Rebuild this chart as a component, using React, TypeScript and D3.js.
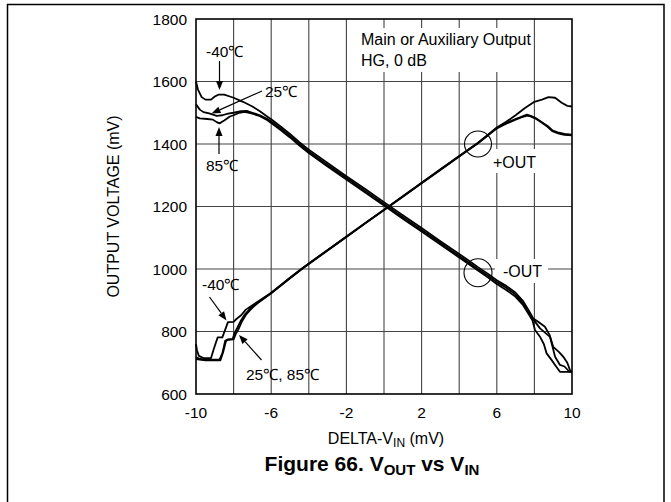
import React from "react";
import * as d3 from "d3";

// ---- data (x: DELTA-VIN mV, y: output mV) ----
const xTicks = [-10, -6, -2, 2, 6, 10];
const yTicks = [600, 800, 1000, 1200, 1400, 1600, 1800];
const xGrid = [-8, -6, -4, -2, 0, 2, 4, 6, 8];
const yGrid = [800, 1000, 1200, 1400, 1600];

const plusOutM40: [number, number][] = [
  [-10, 760], [-9.95, 740], [-9.85, 722], [-9.6, 715], [-9.2, 715], [-9.05, 745], [-8.85, 781], [-8.6, 781],
  [-8.45, 805], [-8.3, 830], [-8.0, 831], [-7.85, 840], [-7.6, 852], [-7.35, 870], [-7.1, 880], [-6.8, 892],
  [-6.5, 904], [-6.0, 924], [-5.5, 948], [-5.0, 972], [-4.4, 1000], [-4.0, 1018], [-3.0, 1061], [-2.0, 1104],
  [-1.0, 1147], [0, 1190], [1, 1233], [2, 1276], [3, 1319], [4, 1362], [5, 1404], [5.5, 1428], [6, 1453],
  [6.5, 1471], [7, 1492], [7.5, 1515], [8, 1535], [8.4, 1542], [8.75, 1550], [9.1, 1548], [9.45, 1532],
  [9.75, 1522], [10, 1520],
];
const plusOut25: [number, number][] = [
  [-10, 718], [-9.8, 712], [-9.5, 710], [-8.75, 710], [-8.6, 730], [-8.45, 770], [-8.3, 775], [-8.05, 776],
  [-7.95, 795], [-7.8, 812], [-7.6, 836], [-7.4, 855], [-7.2, 868], [-7.0, 880], [-6.7, 893], [-6.4, 906],
  [-6.0, 923], [-5.5, 947], [-5.0, 971], [-4.4, 999], [-4.0, 1017], [-3.0, 1060], [-2.0, 1103], [-1.0, 1146],
  [0, 1189], [1, 1232], [2, 1275], [3, 1318], [4, 1361], [5, 1403], [5.5, 1427], [6, 1451], [6.5, 1467],
  [7, 1480], [7.3, 1487], [7.6, 1494], [7.8, 1490], [8.1, 1482], [8.4, 1470], [8.7, 1458], [8.95, 1444],
  [9.3, 1436], [9.6, 1432], [10, 1430],
];
const plusOut85: [number, number][] = [
  [-10, 712], [-9.5, 708], [-8.7, 708], [-8.55, 735], [-8.4, 770], [-8.3, 773], [-8.0, 775], [-7.9, 790],
  [-7.75, 806], [-7.55, 833], [-7.35, 853], [-7.15, 867], [-6.95, 879], [-6.7, 892], [-6.4, 905], [-6.0, 922],
  [-5.5, 946], [-5.0, 970], [-4.4, 998], [-4.0, 1016], [-3.0, 1059], [-2.0, 1102], [-1.0, 1146], [0, 1189],
  [1, 1231], [2, 1274], [3, 1317], [4, 1360], [5, 1402], [5.5, 1426], [6, 1450], [6.5, 1465], [7, 1478],
  [7.3, 1485], [7.6, 1491], [7.8, 1488], [8.1, 1480], [8.4, 1468], [8.7, 1455], [8.95, 1441], [9.3, 1433],
  [9.6, 1429], [10, 1428],
];
const minusOutM40: [number, number][] = [
  [-10, 1600], [-9.9, 1575], [-9.7, 1550], [-9.5, 1542], [-9.2, 1542], [-9.0, 1552], [-8.8, 1558], [-8.5, 1558],
  [-8.2, 1552], [-8.0, 1548], [-7.5, 1535], [-7.0, 1520], [-6.6, 1505], [-6.2, 1487], [-6.0, 1479],
  [-5.5, 1456], [-5.0, 1432], [-4.5, 1406], [-4.0, 1382], [-3.0, 1339], [-2.0, 1297], [-1.0, 1256], [0, 1214],
  [1, 1172], [2, 1131], [3, 1089], [4, 1048], [4.5, 1027], [5, 1006], [5.5, 986], [6, 964], [6.5, 946],
  [7, 924], [7.4, 897], [7.7, 867], [7.94, 842], [8.2, 831], [8.56, 815], [8.8, 790], [9.0, 751], [9.3, 735],
  [9.54, 719], [9.75, 700], [9.9, 675], [10, 671],
];
const minusOut25: [number, number][] = [
  [-10, 1527], [-9.8, 1510], [-9.6, 1502], [-9.3, 1498], [-9.1, 1494], [-8.9, 1490], [-8.6, 1492],
  [-8.3, 1497], [-8.0, 1500], [-7.6, 1505], [-7.3, 1506], [-7.0, 1500], [-6.6, 1492], [-6.2, 1480],
  [-6.0, 1472], [-5.5, 1450], [-5.0, 1426], [-4.5, 1400], [-4.0, 1376], [-3.0, 1333], [-2.0, 1291],
  [-1.0, 1250], [0, 1208], [1, 1166], [2, 1125], [3, 1083], [4, 1042], [4.5, 1021], [5, 1000], [5.5, 980],
  [6, 958], [6.5, 940], [7, 918], [7.4, 890], [7.7, 860], [7.95, 838], [8.3, 810], [8.83, 783], [9.1, 719],
  [9.36, 693], [9.6, 688], [9.85, 672], [10, 671],
];
const minusOut85: [number, number][] = [
  [-10, 1487], [-9.8, 1482], [-9.4, 1480], [-9.1, 1478], [-8.9, 1470], [-8.75, 1466], [-8.5, 1475],
  [-8.2, 1488], [-8.0, 1492], [-7.7, 1500], [-7.4, 1503], [-7.0, 1497], [-6.6, 1489], [-6.2, 1476],
  [-6.0, 1467], [-5.5, 1445], [-5.0, 1421], [-4.5, 1395], [-4.0, 1371], [-3.0, 1328], [-2.0, 1286],
  [-1.0, 1245], [0, 1203], [1, 1161], [2, 1120], [3, 1078], [4, 1037], [4.5, 1016], [5, 995], [5.5, 974],
  [6, 952], [6.5, 933], [7, 911], [7.4, 884], [7.7, 855], [7.9, 835], [8.03, 805], [8.3, 783], [8.5, 760],
  [8.65, 730], [8.9, 710], [9.1, 693], [9.36, 671], [10, 671],
];

const series = [plusOutM40, plusOut25, plusOut85, minusOutM40, minusOut25, minusOut85];

const FONT = "'Liberation Sans', Arial, Helvetica, sans-serif";

export default function App() {
  const x = d3.scaleLinear().domain([-10, 10]).range([196, 572]);
  const y = d3.scaleLinear().domain([600, 1800]).range([394, 19]);
  const line = d3
    .line<[number, number]>()
    .x((d) => x(d[0]))
    .y((d) => y(d[1]));

  const arrow = (x1: number, y1: number, x2: number, y2: number, key: string) => {
    const ang = Math.atan2(y2 - y1, x2 - x1);
    const L = 9;
    const W = 3.5;
    const bx = x2 - L * Math.cos(ang);
    const by = y2 - L * Math.sin(ang);
    const px = -Math.sin(ang) * W;
    const py = Math.cos(ang) * W;
    return (
      <g key={key}>
        <line x1={x1} y1={y1} x2={bx} y2={by} stroke="#000" strokeWidth={1.2} />
        <path d={`M${x2},${y2}L${bx + px},${by + py}L${bx - px},${by - py}Z`} fill="#000" />
      </g>
    );
  };

  return (
    <svg
      width={671}
      height={502}
      style={{ position: "absolute", left: 0, top: 0, background: "#fff" }}
      fontFamily={FONT}
    >
      <rect x={0} y={0} width={671} height={502} fill="#fff" />
      {/* outer frame */}
      <path d="M7.5,520V4.5H664V520" fill="none" stroke="#000" strokeWidth={1.5} />

      {/* grid */}
      {xGrid.map((v) => (
        <line key={"gx" + v} x1={x(v)} x2={x(v)} y1={y(600)} y2={y(1800)} stroke="#444" strokeWidth={1.1} />
      ))}
      {yGrid.map((v) => (
        <line key={"gy" + v} x1={x(-10)} x2={x(10)} y1={y(v)} y2={y(v)} stroke="#444" strokeWidth={1.1} />
      ))}

      {/* white boxes behind in-plot text */}
      <rect x={356} y={28} width={176} height={44} fill="#fff" />
      <rect x={490} y={149} width={50} height={24} fill="#fff" />
      <rect x={495} y={259} width={53} height={24} fill="#fff" />

      {/* curves */}
      {series.map((s, i) => (
        <path key={"s" + i} d={line(s) || ""} fill="none" stroke="#000" strokeWidth={1.8} strokeLinejoin="round" />
      ))}

      {/* plot frame */}
      <rect x={x(-10)} y={y(1800)} width={x(10) - x(-10)} height={y(600) - y(1800)} fill="none" stroke="#000" strokeWidth={1.6} />

      {/* circles */}
      <ellipse cx={x(5)} cy={y(1400)} rx={13.5} ry={13} fill="none" stroke="#000" strokeWidth={1.1} />
      <ellipse cx={x(5)} cy={y(988)} rx={14} ry={14} fill="none" stroke="#000" strokeWidth={1.1} />

      {/* tick labels */}
      {yTicks.map((v) => (
        <text key={"yt" + v} x={187} y={y(v)} dy="0.36em" textAnchor="end" fontSize={15.5} fill="#000">
          {v}
        </text>
      ))}
      {xTicks.map((v) => (
        <text key={"xt" + v} x={x(v)} y={418} textAnchor="middle" fontSize={15.5} fill="#000">
          {v}
        </text>
      ))}

      {/* axis titles */}
      <text transform="translate(119,206.5) rotate(-90)" textAnchor="middle" fontSize={16} fill="#000">
        OUTPUT VOLTAGE (mV)
      </text>
      <text x={386} y={444} textAnchor="middle" fontSize={16} fill="#000">
        DELTA-V<tspan fontSize={12} dy={3}>IN</tspan>
        <tspan dy={-3}> (mV)</tspan>
      </text>
      <text x={372} y={471} textAnchor="middle" fontSize={21} fontWeight="bold" fill="#000">
        Figure 66. V<tspan fontSize={15} dy={4}>OUT</tspan>
        <tspan dy={-4}> vs V</tspan>
        <tspan fontSize={15} dy={4}>IN</tspan>
      </text>

      {/* annotations */}
      <text x={361} y={45} fontSize={16} fill="#000">Main or Auxiliary Output</text>
      <text x={361} y={66} fontSize={16} fill="#000">HG, 0 dB</text>
      <text x={493} y={168} fontSize={16} fill="#000">+OUT</text>
      <text x={503} y={277} fontSize={16} fill="#000">-OUT</text>

      <text x={206} y={57} fontSize={15.5} fill="#000">-40℃</text>
      {arrow(219.5, 61, 219.5, 90, "a1")}
      <text x={265} y={97} fontSize={15.5} fill="#000">25℃</text>
      {arrow(262, 91, 211.5, 113.5, "a2")}
      <text x={206} y={171} fontSize={15.5} fill="#000">85℃</text>
      {arrow(219, 154, 219, 127, "a3")}

      <text x={202} y={290} fontSize={15.5} fill="#000">-40℃</text>
      {arrow(209.5, 297, 226.5, 320.5, "a4")}
      <text x={246} y={380} fontSize={15.5} fill="#000">25℃, 85℃</text>
      {arrow(261.5, 360, 239, 335, "a5")}
    </svg>
  );
}
